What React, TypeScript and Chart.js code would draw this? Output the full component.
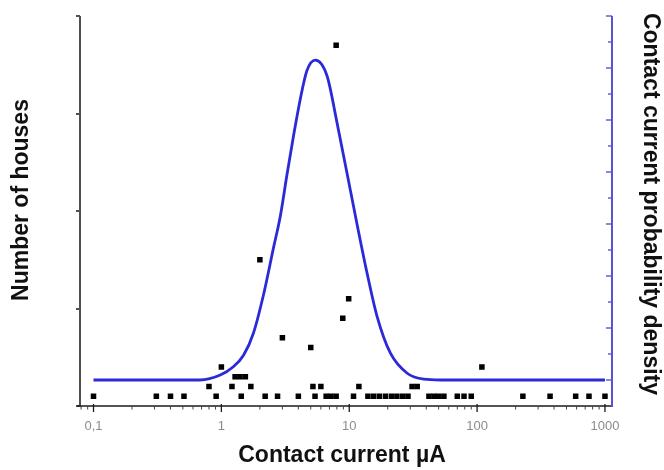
import React, { useEffect, useRef } from 'react';
import { Chart, registerables } from 'chart.js';

Chart.register(...registerables);

// Scatter: number of houses at each measured contact current (µA)
const houseCurrent = [
  0.1, 0.31, 0.4, 0.51, 0.91, 1.43, 2.2, 2.75, 4.0, 5.4, 6.6, 7.2, 7.9, 10.8,
  14, 15.5, 17.2, 19.2, 21.4, 23.6, 26.2, 28.8, 42, 46, 50, 55, 70, 79, 90,
  228, 372, 590, 750, 1000,
  0.8, 1.21, 1.7, 5.2, 6.0, 11.9, 31, 34,
  1.28, 1.4, 1.54,
  1.0, 109,
  3.0, 5.0, 8.9, 9.9, 2.0, 7.9,
];
const houseCount = [
  1, 1, 1, 1, 1, 1, 1, 1, 1, 1, 1, 1, 1, 1,
  1, 1, 1, 1, 1, 1, 1, 1, 1, 1, 1, 1, 1, 1, 1,
  1, 1, 1, 1, 1,
  2, 2, 2, 2, 2, 2, 2, 2,
  3, 3, 3,
  4, 4,
  7, 6, 9, 11, 15, 37,
];

// Fitted probability density curve
const densityCurrent = [
  0.1, 0.68, 0.98, 1.24, 1.49, 1.78, 2.14, 2.56, 2.89, 3.26, 3.67, 4.14, 4.67,
  5.43, 6.7, 8.02, 9.61, 11.5, 13.8, 16.5, 21.0, 28.4, 38.3, 51.7, 1000,
];
const densityValue = [
  0, 0, 0.19, 0.51, 0.95, 1.8, 3.3, 5.1, 6.3, 7.9, 9.4, 10.8, 11.9,
  12.3, 11.7, 9.9, 7.95, 6.0, 4.1, 2.45, 1.03, 0.26, 0.03, 0, 0,
];

const xTickValues = [0.1, 1, 10, 100, 1000];
const xTickLabels = ['0,1', '1', '10', '100', '1000'];
const xMinorTicks = [
  0.08, 0.09, 0.2, 0.3, 0.4, 0.5, 0.6, 0.7, 0.8, 0.9,
  2, 3, 4, 5, 6, 7, 8, 9,
  20, 30, 40, 50, 60, 70, 80, 90,
  200, 300, 400, 500, 600, 700, 800, 900,
];
const leftTicks = [0, 10, 20, 30, 40];
const rightMajorTicks = [0, 2, 4, 6, 8, 10, 12, 14];
const rightMinorTicks = [1, 3, 5, 7, 9, 11, 13];

const xTitle = 'Contact current µA';
const yTitle = 'Number of houses';
const y2Title = 'Contact current probability density';

const TITLE_FONT = 'bold 23px "Liberation Sans", Arial, sans-serif';

const decorPlugin = {
  id: 'decor',
  afterDraw(chart: any) {
    const { ctx, chartArea: a, scales } = chart;
    const sx = scales.x, sy = scales.y, sy2 = scales.y2;
    const line = (x1: number, y1: number, x2: number, y2: number) => {
      ctx.beginPath();
      ctx.moveTo(x1, y1);
      ctx.lineTo(x2, y2);
      ctx.stroke();
    };
    ctx.save();
    // left axis
    ctx.strokeStyle = '#505050';
    ctx.lineWidth = 2;
    line(a.left, a.top, a.left, a.bottom + 1);
    leftTicks.forEach((v) => {
      const py = Math.round(sy.getPixelForValue(v));
      line(a.left - 4, py, a.left, py);
    });
    // bottom axis
    ctx.strokeStyle = '#1a1a1a';
    ctx.lineWidth = 1.6;
    line(a.left - 3, a.bottom, a.right, a.bottom);
    ctx.lineWidth = 1.3;
    xTickValues.forEach((v) => {
      const px = sx.getPixelForValue(v);
      line(px, a.bottom - 2, px, a.bottom + 6);
    });
    ctx.strokeStyle = '#444';
    ctx.lineWidth = 1;
    xMinorTicks.forEach((v) => {
      const px = sx.getPixelForValue(v);
      line(px, a.bottom, px, a.bottom + 3.5);
    });
    // right axis
    ctx.strokeStyle = '#5656d2';
    ctx.lineWidth = 2;
    line(a.right, a.top, a.right, a.bottom + 1);
    ctx.lineWidth = 1.4;
    rightMajorTicks.forEach((v) => {
      const py = Math.round(sy2.getPixelForValue(v));
      line(a.right - 6, py, a.right, py);
    });
    rightMinorTicks.forEach((v) => {
      const py = Math.round(sy2.getPixelForValue(v));
      line(a.right - 4, py, a.right, py);
    });
    // titles
    ctx.fillStyle = '#111';
    ctx.font = TITLE_FONT;
    ctx.textAlign = 'center';
    ctx.textBaseline = 'middle';
    ctx.fillText(xTitle, (a.left + a.right) / 2 - 4, 456);
    ctx.save();
    ctx.translate(22, 200);
    ctx.rotate(-Math.PI / 2);
    ctx.fillText(yTitle, 0, 0);
    ctx.restore();
    ctx.save();
    ctx.translate(650, 204);
    ctx.rotate(Math.PI / 2);
    ctx.fillText(y2Title, 0, 0);
    ctx.restore();
    ctx.restore();
  },
};

export default function App() {
  const ref = useRef<HTMLCanvasElement | null>(null);
  useEffect(() => {
    if (!ref.current) return;
    const chart = new Chart(ref.current, {
      type: 'scatter',
      data: {
        datasets: [
          {
            label: 'Houses',
            data: houseCurrent.map((x, i) => ({ x, y: houseCount[i] })),
            yAxisID: 'y',
            pointStyle: 'rect',
            pointRadius: 3.9,
            pointBackgroundColor: '#000',
            pointBorderWidth: 0,
            showLine: false,
          },
          {
            label: 'Density',
            data: densityCurrent.map((x, i) => ({ x, y: densityValue[i] })),
            yAxisID: 'y2',
            showLine: true,
            pointRadius: 0,
            borderColor: '#2a2ad8',
            borderWidth: 2.8,
            cubicInterpolationMode: 'monotone',
            fill: false,
          },
        ],
      },
      plugins: [decorPlugin],
      options: {
        animation: false,
        responsive: false,
        devicePixelRatio: 1,
        events: [],
        layout: { padding: { top: 16, left: 0, right: 0, bottom: 0 }, autoPadding: false },
        plugins: { legend: { display: false }, tooltip: { enabled: false } },
        scales: {
          x: {
            type: 'logarithmic',
            position: 'bottom',
            min: 0.0784,
            max: 1135,
            afterBuildTicks: (scale: any) => {
              scale.ticks = xTickValues.map((v) => ({ value: v }));
            },
            afterFit: (scale: any) => {
              scale.height = 64;
            },
            grid: { display: false, drawTicks: false },
            border: { display: false },
            ticks: {
              autoSkip: false,
              maxRotation: 0,
              padding: 13,
              color: '#8c8c8c',
              font: { family: '"Liberation Sans", Arial, sans-serif', size: 13 },
              callback: (value: any) => {
                const i = xTickValues.indexOf(Number(value));
                return i >= 0 ? xTickLabels[i] : '';
              },
            },
          },
          y: {
            type: 'linear',
            position: 'left',
            min: 0,
            max: 40,
            afterFit: (scale: any) => {
              scale.width = 80;
            },
            grid: { display: false, drawTicks: false },
            border: { display: false },
            ticks: { display: false },
          },
          y2: {
            type: 'linear',
            position: 'right',
            min: -1,
            max: 14,
            afterFit: (scale: any) => {
              scale.width = 52;
            },
            grid: { display: false, drawTicks: false },
            border: { display: false },
            ticks: { display: false },
          },
        },
      } as any,
    });
    return () => chart.destroy();
  }, []);
  return (
    <div style={{ position: 'fixed', left: 0, top: 0, width: 664, height: 470, background: '#fff' }}>
      <canvas ref={ref} width={664} height={470} />
    </div>
  );
}
